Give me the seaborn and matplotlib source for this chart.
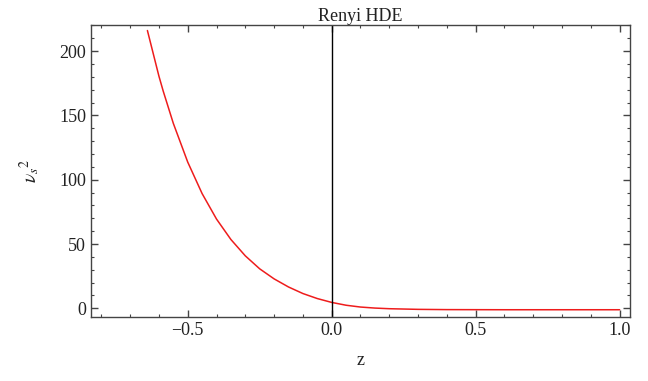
import numpy as np
import pandas as pd
import matplotlib
matplotlib.use("Agg")
import matplotlib.pyplot as plt
import seaborn as sns
from matplotlib.ticker import MultipleLocator

# valores
z = [-0.64, -0.6, -0.585, -0.55, -0.5, -0.45, -0.4, -0.35, -0.3, -0.25,
     -0.2, -0.15, -0.1, -0.05, 0.0, 0.05, 0.1, 0.15, 0.2, 0.3,
     0.4, 0.6, 0.8, 1.0]
v2 = [216, 180.5, 168.8, 143.8, 113.7, 89.2, 69.4, 53.5, 40.8, 30.7,
      22.9, 16.6, 11.5, 7.6, 4.6, 2.4, 1.0, 0.2, -0.3, -0.8,
      -1.0, -1.1, -1.1, -1.1]
title = "Renyi HDE"

data = pd.DataFrame({"z": z, "v2": v2})

sns.set_style("ticks")
plt.rcParams["font.family"] = ["Liberation Serif", "DejaVu Serif"]
plt.rcParams["mathtext.fontset"] = "stix"

fig = plt.figure(figsize=(6.48, 3.81), dpi=100)
ax = fig.add_axes([0.1404, 0.1688, 0.8318, 0.7656])

sns.lineplot(data=data, x="z", y="v2", color="#ee1c1c", lw=1.1, ax=ax)
ax.axvline(0, color="black", lw=1.0)

ax.set_xlim(-0.836, 1.036)
ax.set_ylim(-6.5, 220.3)
ax.xaxis.set_major_locator(MultipleLocator(0.5))
ax.xaxis.set_minor_locator(MultipleLocator(0.1))
ax.yaxis.set_major_locator(MultipleLocator(50))
ax.yaxis.set_minor_locator(MultipleLocator(10))
ax.xaxis.set_major_formatter(plt.FuncFormatter(lambda x, p: f"{x:.1f}".replace("-", "\u2212")))

ax.tick_params(which="both", direction="in", top=True, right=True,
               color="#444444", labelsize=13, labelcolor="#222222")
ax.tick_params(which="major", length=5, width=1)
ax.tick_params(which="minor", length=2.5, width=0.8)
for s in ax.spines.values():
    s.set_color("#444444")
    s.set_linewidth(1.0)

ax.set_title(title, fontsize=13, color="#222222", pad=2)
ax.set_xlabel("z", fontsize=13, color="#222222", labelpad=10)
ax.set_ylabel(r"$\nu_s{}^{2}$", fontsize=14, color="#222222", labelpad=12)

fig.savefig("out.png", dpi=100)
